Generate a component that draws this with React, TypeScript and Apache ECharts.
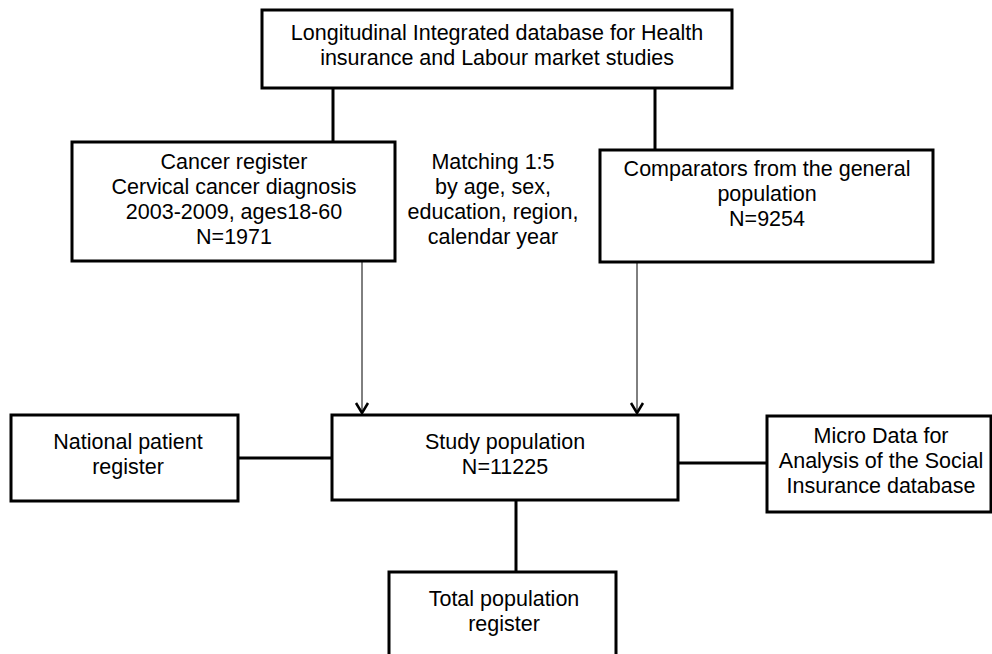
import React, { useEffect, useRef } from "react";
import * as echarts from "echarts";

// Text content of the flowchart nodes
const nodeIds = ["lisa", "cancer", "comparators", "national", "study", "micro", "total"];
const nodeLabels = [
  "Longitudinal Integrated database for Health\ninsurance and Labour market studies",
  "Cancer register\nCervical cancer diagnosis\n2003-2009, ages18-60\nN=1971",
  "Comparators from the general\npopulation\nN=9254",
  "National patient\nregister",
  "Study population\nN=11225",
  "Micro Data for\nAnalysis of the Social\nInsurance database",
  "Total population\nregister",
];
const matchingNote = "Matching 1:5\nby age, sex,\neducation, region,\ncalendar year";

// Links: [from, to, kind]
const links: [string, string, string][] = [
  ["lisa", "cancer", "plain"],
  ["lisa", "comparators", "plain"],
  ["cancer", "study", "arrow"],
  ["comparators", "study", "arrow"],
  ["national", "study", "plain"],
  ["study", "micro", "plain"],
  ["study", "total", "plain"],
];

// Layout (pixel geometry), kept separate from the content
const boxes: Record<string, { x0: number; y0: number; x1: number; y1: number; tx: number; ty: number }> = {
  lisa: { x0: 262, y0: 10, x1: 732, y1: 88, tx: 497, ty: 45 },
  cancer: { x0: 72, y0: 142, x1: 395, y1: 261, tx: 234, ty: 199 },
  comparators: { x0: 600, y0: 150, x1: 933, y1: 262, tx: 767, ty: 194 },
  national: { x0: 11, y0: 415, x1: 238, y1: 501, tx: 128, ty: 454 },
  study: { x0: 332, y0: 415, x1: 678, y1: 500, tx: 505, ty: 454 },
  micro: { x0: 767, y0: 416, x1: 991, y1: 512, tx: 881, ty: 461 },
  total: { x0: 389, y0: 572, x1: 616, y1: 680, tx: 504, ty: 611 },
};
const linkGeom: Record<string, number[][]> = {
  "lisa-cancer": [[333, 88], [333, 142]],
  "lisa-comparators": [[655, 88], [655, 150]],
  "cancer-study": [[362, 261], [362, 414]],
  "comparators-study": [[637, 262], [637, 414]],
  "national-study": [[238, 458], [332, 458]],
  "study-micro": [[678, 463], [767, 463]],
  "study-total": [[516, 500], [516, 572]],
};
const notePos = { x: 493, y: 199 };

const FONT = '21.5px "Liberation Sans", Arial, Helvetica, sans-serif';

export default function App() {
  const ref = useRef<HTMLDivElement>(null);
  useEffect(() => {
    document.body.style.margin = "0";
    if (!ref.current) return;
    const chart = echarts.init(ref.current, null, { renderer: "svg" });
    const elements: any[] = [];

    links.forEach(([a, b, kind]) => {
      const pts = linkGeom[a + "-" + b];
      const arrow = kind === "arrow";
      elements.push({
        type: "line",
        shape: { x1: pts[0][0], y1: pts[0][1], x2: pts[1][0], y2: pts[1][1] },
        style: { stroke: "#000", lineWidth: arrow ? 1 : 3 },
        z: 1,
      });
      if (arrow) {
        const tx = pts[1][0];
        const ty = pts[1][1] - 1;
        elements.push({
          type: "polyline",
          shape: { points: [[tx - 6, ty - 10], [tx, ty], [tx + 6, ty - 10]] },
          style: { stroke: "#000", lineWidth: 2.5, fill: null },
          z: 1,
        });
      }
    });

    nodeIds.forEach((id, i) => {
      const b = boxes[id];
      elements.push({
        type: "rect",
        shape: { x: b.x0, y: b.y0, width: b.x1 - b.x0, height: b.y1 - b.y0 },
        style: { fill: "#fff", stroke: "#000", lineWidth: 3 },
        z: 2,
      });
      elements.push({
        type: "text",
        x: b.tx,
        y: b.ty,
        style: {
          text: nodeLabels[i],
          font: FONT,
          fill: "#000",
          align: "center",
          verticalAlign: "middle",
          lineHeight: 25,
        },
        z: 3,
      });
    });

    elements.push({
      type: "text",
      x: notePos.x,
      y: notePos.y,
      style: {
        text: matchingNote,
        font: FONT,
        fill: "#000",
        align: "center",
        verticalAlign: "middle",
        lineHeight: 25,
      },
      z: 3,
    });

    chart.setOption({
      animation: false,
      backgroundColor: "#fff",
      graphic: { elements },
    });
    return () => chart.dispose();
  }, []);
  return <div ref={ref} style={{ width: 992, height: 654 }} />;
}
